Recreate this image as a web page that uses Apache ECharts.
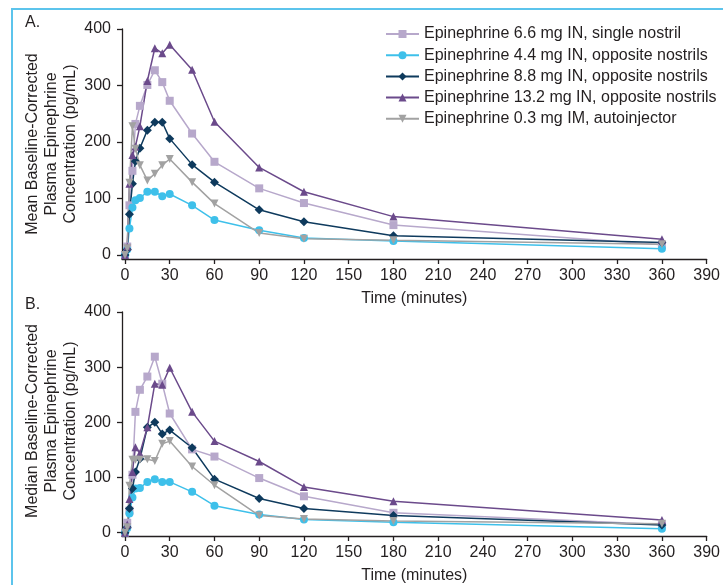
<!DOCTYPE html>
<html>
<head>
<meta charset="utf-8">
<script src="https://cdn.jsdelivr.net/npm/echarts@6/dist/echarts.min.js"></script>
<style>
html,body{margin:0;padding:0;background:#fff;}
#c{width:723px;height:585px;}
</style>
</head>
<body>
<div id="c"></div>
<script>
// ---- data ----
const time = [0, 1.5, 3, 5, 7, 10, 15, 20, 25, 30, 45, 60, 90, 120, 180, 360];
const seriesNames = [
  'Epinephrine 6.6 mg IN, single nostril',
  'Epinephrine 4.4 mg IN, opposite nostrils',
  'Epinephrine 8.8 mg IN, opposite nostrils',
  'Epinephrine 13.2 mg IN, opposite nostrils',
  'Epinephrine 0.3 mg IM, autoinjector'
];
// Panel A: mean
const meanA66  = [0, 15, 88, 149, 232, 264, 301, 327, 306, 273, 215, 165, 118, 92, 53, 18];
const meanA44  = [0, 10, 47, 84, 97, 101, 112, 112, 104, 108, 88, 62, 44, 30, 25, 11];
const meanA88  = [0, 10, 72, 126, 166, 189, 221, 235, 235, 206, 160, 129, 80, 59, 34, 22];
const meanA132 = [0, 15, 126, 177, 192, 228, 308, 366, 357, 372, 328, 236, 155, 112, 68, 28];
const meanAIM  = [0, 12, 128, 228, 188, 159, 132, 144, 159, 170, 129, 91, 39, 29, 26, 19];
// Panel B: median
const medB66  = [0, 18, 40, 105, 219, 259, 283, 319, 270, 216, 151, 138, 99, 66, 36, 15];
const medB44  = [0, 8, 35, 64, 80, 81, 92, 97, 92, 92, 74, 49, 33, 24, 19, 7];
const medB88  = [0, 10, 44, 80, 110, 134, 191, 200, 179, 186, 154, 97, 62, 44, 31, 14];
const medB132 = [0, 15, 61, 110, 155, 144, 191, 270, 268, 299, 219, 166, 129, 83, 57, 23];
const medBIM  = [0, 10, 85, 132, 132, 132, 133, 130, 161, 166, 120, 86, 31, 25, 21, 16];
// tick labels
const xTicks = [0, 30, 60, 90, 120, 150, 180, 210, 240, 270, 300, 330, 360, 390];
const yTicks = [0, 100, 200, 300, 400];

// ---- styles ----
const colors = ['#b7a8cb', '#3ec0ea', '#0e3a5d', '#6b4a8b', '#a2a2a2'];
const symbols = ['rect', 'circle', 'diamond', 'triangle', 'triangle'];
const symRot = [0, 0, 0, 0, 180];
const symSize = [8, 8, 9, 8, 8];
const FONT = 'Arial, "Liberation Sans", sans-serif';
const TXT = '#231f20';

const panelA = [meanA66, meanA44, meanA88, meanA132, meanAIM];
const panelB = [medB66, medB44, medB88, medB132, medBIM];

function mkX(idx) {
  return {
    type: 'value', gridIndex: idx, min: -2, max: 390,
    name: 'Time (minutes)', nameLocation: 'middle', nameGap: 32,
    nameTextStyle: {fontFamily: FONT, fontSize: 16, color: TXT},
    axisLine: {onZero: false, lineStyle: {color: TXT, width: 1.3}},
    axisTick: {show: true, length: 5, customValues: xTicks, lineStyle: {color: TXT, width: 1.3}},
    axisLabel: {customValues: xTicks, fontFamily: FONT, fontSize: 16, color: TXT, margin: 9},
    splitLine: {show: false}
  };
}
function mkY(idx, mn) {
  return {
    type: 'value', gridIndex: idx, min: mn, max: 400,
    axisLine: {show: true, onZero: false, lineStyle: {color: TXT, width: 1.3}},
    axisTick: {show: true, length: 5, customValues: yTicks, lineStyle: {color: TXT, width: 1.3}},
    axisLabel: {customValues: yTicks, fontFamily: FONT, fontSize: 16, color: TXT, margin: 11},
    splitLine: {show: false}
  };
}
function mkSeries(arrs, idx) {
  return arrs.map((arr, i) => ({
    name: seriesNames[i],
    type: 'line',
    xAxisIndex: idx, yAxisIndex: idx,
    data: time.map((t, j) => [t, arr[j]]),
    symbol: symbols[i], symbolRotate: symRot[i], symbolSize: symSize[i],
    showAllSymbol: true,
    lineStyle: {color: colors[i], width: 1.5},
    itemStyle: {color: colors[i]},
    emphasis: {disabled: true},
    animation: false
  }));
}

const chart = echarts.init(document.getElementById('c'), null, {renderer: 'canvas'});
chart.setOption({
  animation: false,
  backgroundColor: '#fff',
  grid: [
    {left: 122, right: 13, top: 29, height: 230},
    {left: 122, right: 13, top: 312, height: 229}
  ],
  xAxis: [mkX(0), mkX(1)],
  yAxis: [mkY(0, -7), mkY(1, -6)],
  legend: {
    data: seriesNames,
    orient: 'vertical', left: 385, top: 25, padding: 0,
    itemWidth: 33, itemHeight: 10, itemGap: 3.2,
    textStyle: {fontFamily: FONT, fontSize: 16, color: TXT, lineHeight: 18},
    selectedMode: false
  },
  series: mkSeries(panelA, 0).concat(mkSeries(panelB, 1)),
  graphic: [
    {type: 'polyline', shape: {points: [[12, 585], [12, 9], [723, 9]]}, style: {stroke: '#5cc4ec', lineWidth: 2, fill: null}},
    {type: 'text', left: 25, top: 15, style: {text: 'A.', font: '16px ' + FONT, fill: TXT}},
    {type: 'text', left: 25, top: 297, style: {text: 'B.', font: '16px ' + FONT, fill: TXT}},
    {type: 'text', x: 52, y: 144, rotation: Math.PI / 2,
      style: {text: 'Mean Baseline-Corrected\nPlasma Epinephrine\nConcentration (pg/mL)', font: '16px ' + FONT, fill: TXT, align: 'center', verticalAlign: 'middle', lineHeight: 19}},
    {type: 'text', x: 52, y: 421, rotation: Math.PI / 2,
      style: {text: 'Median Baseline-Corrected\nPlasma Epinephrine\nConcentration (pg/mL)', font: '16px ' + FONT, fill: TXT, align: 'center', verticalAlign: 'middle', lineHeight: 19}}
  ]
});
</script>
</body>
</html>
